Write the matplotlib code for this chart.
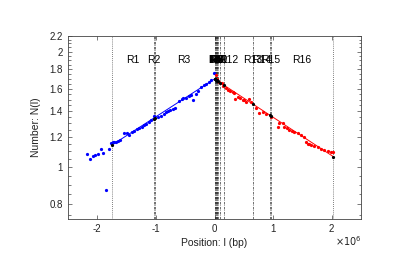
import numpy as np
import matplotlib
matplotlib.use("Agg")
import matplotlib.pyplot as plt
from matplotlib.ticker import FixedLocator, NullFormatter

plt.rcParams['font.family'] = ['Liberation Sans', 'DejaVu Sans']

# positions in units of 1e6 bp
blue_x = [-2.176, -2.125, -2.078, -2.039, -1.993, -1.942, -1.898, -1.852, -1.805, -1.766,
          -1.737, -1.710, -1.681, -1.641, -1.607, -1.539, -1.499, -1.453, -1.408, -1.368,
          -1.323, -1.283, -1.237, -1.198, -1.169, -1.123, -1.084, -1.038, -0.969, -0.913,
          -0.867, -0.828, -0.799, -0.754, -0.713, -0.669, -0.601, -0.560, -0.532, -0.486,
          -0.440, -0.401, -0.362, -0.316, -0.287, -0.230, -0.184, -0.145, -0.099, -0.060,
          -0.003]
blue_y = [1.082, 1.050, 1.071, 1.073, 1.082, 1.113, 1.087, 0.872, 1.115, 1.158,
          1.165, 1.161, 1.161, 1.168, 1.177, 1.225, 1.225, 1.213, 1.232, 1.242,
          1.257, 1.262, 1.270, 1.285, 1.295, 1.313, 1.327, 1.359, 1.350, 1.359,
          1.375, 1.392, 1.403, 1.412, 1.417, 1.428, 1.487, 1.505, 1.518, 1.510,
          1.532, 1.541, 1.496, 1.549, 1.579, 1.620, 1.637, 1.647, 1.670, 1.687,
          1.762]

red_x = [0.02, 0.05, 0.08, 0.12, 0.15, 0.196, 0.225, 0.270, 0.311, 0.338,
         0.355, 0.396, 0.440, 0.481, 0.509, 0.538, 0.594, 0.623, 0.708, 0.765,
         0.823, 0.879, 0.964, 1.078, 1.106, 1.164, 1.191, 1.237, 1.276, 1.317,
         1.362, 1.420, 1.476, 1.532, 1.561, 1.590, 1.618, 1.647, 1.703, 1.761,
         1.817, 1.874, 1.932, 1.988, 2.027]
red_y = [1.740, 1.700, 1.670, 1.660, 1.630, 1.605, 1.589, 1.582, 1.572, 1.557,
         1.502, 1.526, 1.510, 1.496, 1.496, 1.481, 1.502, 1.481, 1.428, 1.386,
         1.395, 1.375, 1.350, 1.275, 1.301, 1.305, 1.275, 1.262, 1.250, 1.242,
         1.232, 1.225, 1.213, 1.196, 1.165, 1.148, 1.147, 1.141, 1.135, 1.126,
         1.113, 1.108, 1.100, 1.095, 1.093]

# fitted lines (end points)
blue_fit_x = [-1.75, 0.0]
blue_fit_y = [1.142, 1.697]
red_fit_x = [0.0, 2.03]
red_fit_y = [1.697, 1.065]

# region boundaries
edge_x = [-1.75, 2.03]
edge_y = [1.142, 1.065]
bound_x = [-1.04, -1.02, 0.0, 0.01, 0.02, 0.03, 0.04, 0.05, 0.06, 0.095, 0.167,
           0.65, 0.94, 0.96]
bound_y = [1.339, 1.345, 1.697, 1.693, 1.689, 1.685, 1.682, 1.678, 1.674, 1.660, 1.633,
           1.462, 1.368, 1.362]

region_names = ['R%d' % i for i in range(1, 17)]
region_pos = [-1.39, -1.03, -0.52, 0.00, 0.01, 0.02, 0.03, 0.04, 0.05, 0.06, 0.07,
              0.24, 0.65, 0.80, 0.96, 1.49]

fig = plt.figure(figsize=(4.15, 2.71), dpi=100)
ax = fig.add_axes([68 / 415, 1 - 219 / 271, (361 - 68) / 415, (219 - 35.7) / 271])

ax.set_yscale('log')
ax.set_xlim(-2.5, 2.5)
ax.set_ylim(0.733, 2.2)

for x in edge_x:
    ax.axvline(x, color='#555555', ls=(0, (1, 1.5)), lw=0.6)
for x in bound_x:
    ax.axvline(x, color='#222222', ls=(0, (4, 1.5, 1, 1.5)), lw=0.45)

ax.plot(blue_fit_x, blue_fit_y, color='b', lw=0.7)
ax.plot(red_fit_x, red_fit_y, color='r', lw=0.7)
ax.plot(blue_x, blue_y, '.', color='b', ms=2.6)
ax.plot(red_x, red_y, '.', color='r', ms=2.6)
ax.plot(bound_x + edge_x, bound_y + edge_y, '.', color='k', ms=2.6)

for name, x in zip(region_names, region_pos):
    ax.text(x, 1.905, name, ha='center', va='center', fontsize=7.5)

ax.set_xticks([-2, -1, 0, 1, 2])
ax.set_xticklabels(['-2', '-1', '0', '1', '2'])
ax.yaxis.set_major_locator(FixedLocator([0.8, 1, 1.2, 1.4, 1.6, 1.8, 2, 2.2]))
ax.set_yticklabels(['0.8', '1', '1.2', '1.4', '1.6', '1.8', '2', '2.2'])
ax.yaxis.set_minor_locator(FixedLocator(np.arange(0.75, 2.2, 0.05)))
ax.yaxis.set_minor_formatter(NullFormatter())

ax.tick_params(which='both', direction='in', top=True, right=True, labelsize=7,
               color='#444444', labelcolor='#222222')
ax.tick_params(which='major', length=3, width=0.5)
ax.tick_params(which='minor', length=1.8, width=0.5)
for s in ax.spines.values():
    s.set_color('#444444')
    s.set_linewidth(0.6)

ax.set_xlabel('Position: l (bp)', fontsize=7.5, color='#222222', labelpad=3)
ax.set_ylabel('Number: N(l)', fontsize=7.5, color='#222222', labelpad=6)
fig.text(335 / 415, 1 - 246 / 271, r'$\times 10^{6}$', fontsize=7, color='#222222')

fig.savefig('out.png', dpi=100)
